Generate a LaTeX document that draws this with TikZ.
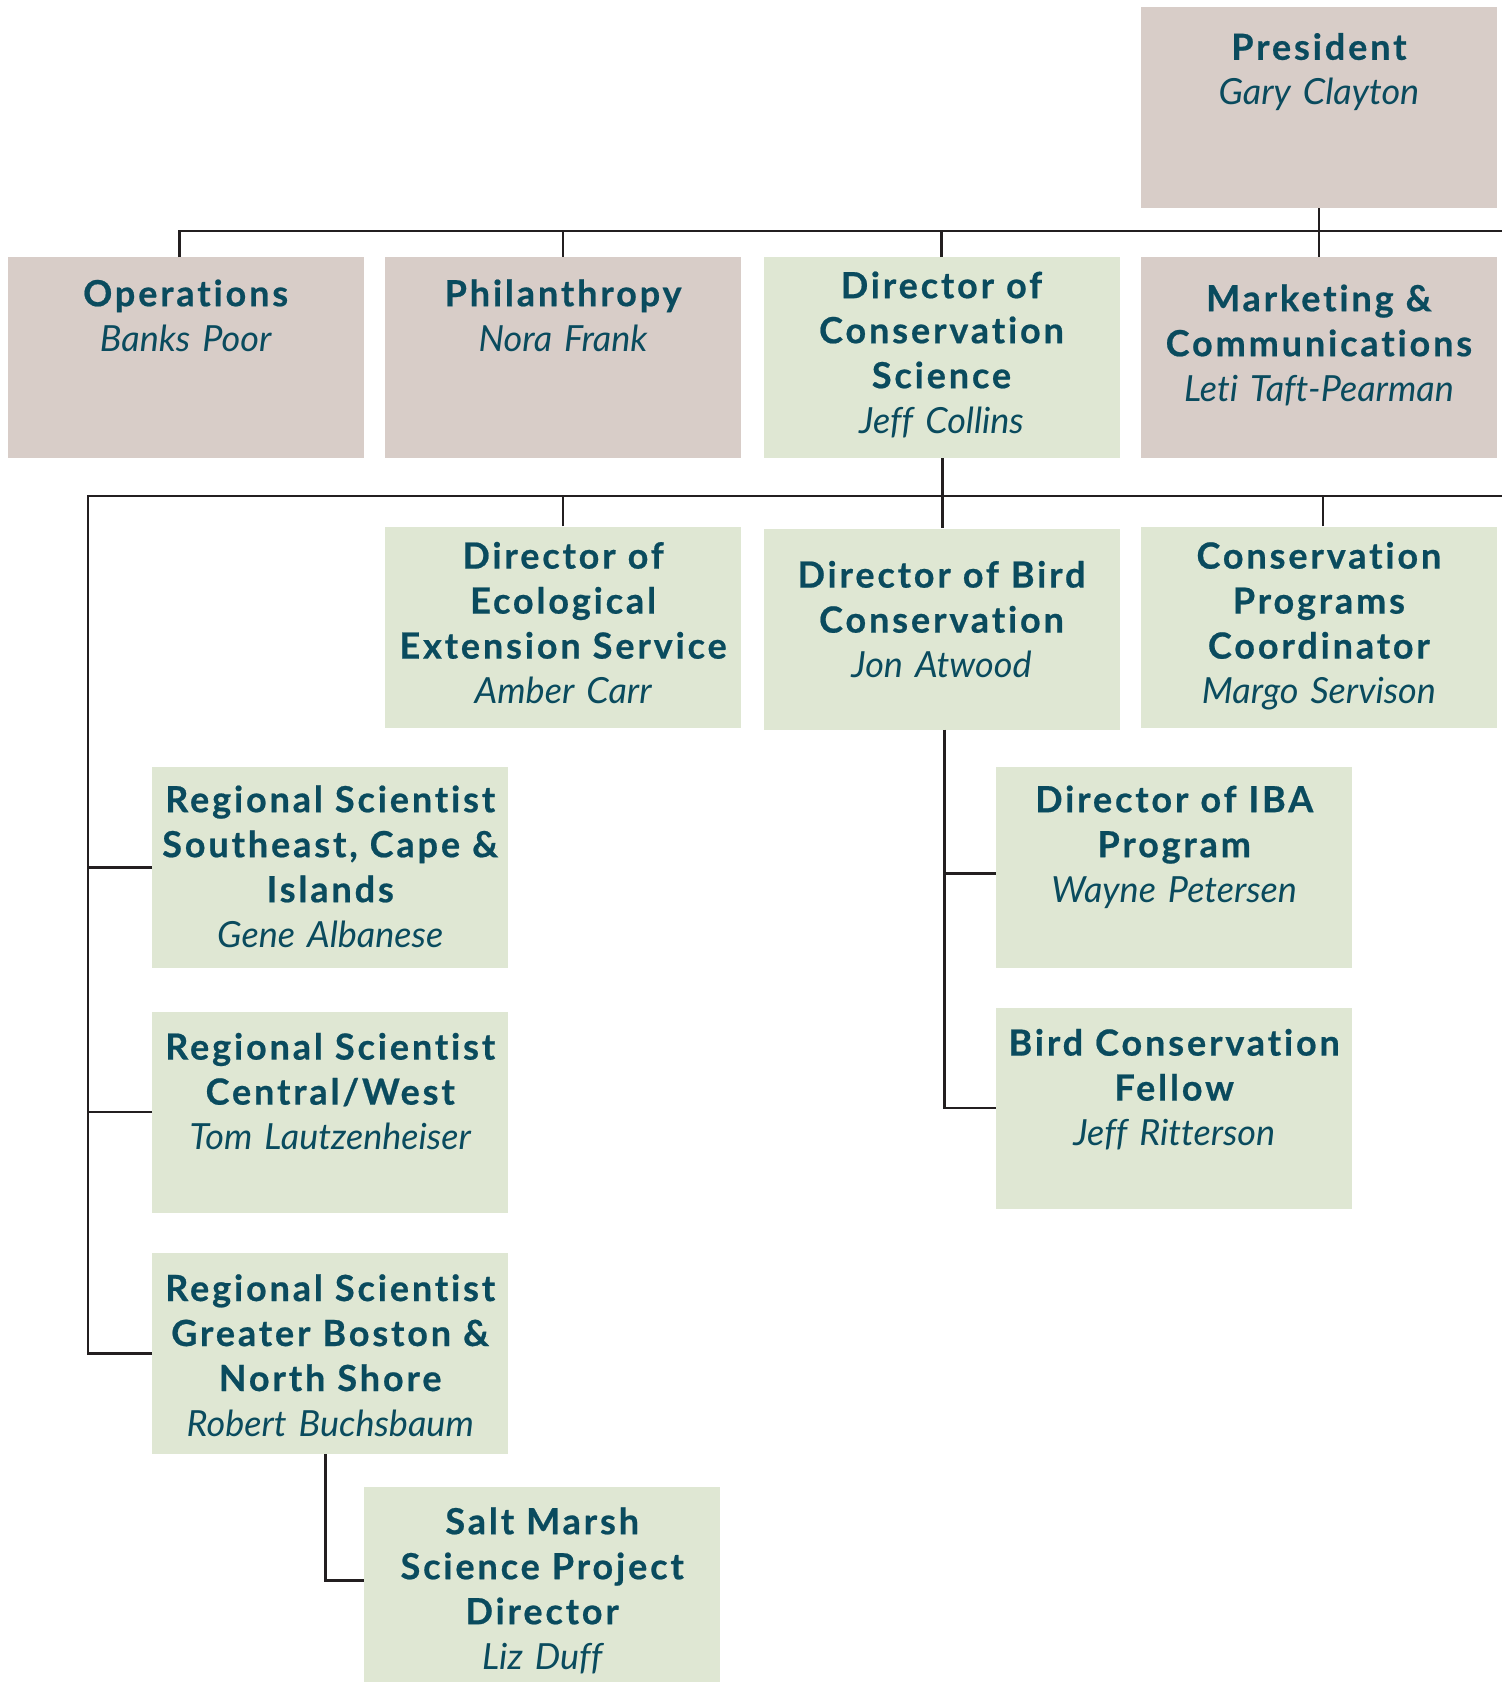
\documentclass[tikz,border=0pt]{standalone}
\usepackage{fontspec}
\setmainfont{Lato}[Ligatures=NoCommon,
  BoldFeatures={LetterSpace=8, FakeBold=0.6}]
\usepackage{tikz}
\usetikzlibrary{positioning}

\definecolor{inkteal}{HTML}{0A4B5E}
\definecolor{taupe}{HTML}{D8CDC8}
\definecolor{sage}{HTML}{DFE7D3}
\definecolor{wire}{HTML}{231F20}

\newcommand{\person}[1]{{\mdseries\itshape #1}}

\begin{document}
\begin{tikzpicture}[
  x=1pt, y=1pt,
  lead/.code={\pgfmathsetmacro\leaddp{201-#1}%
              \tikzset{text height=#1pt, text depth/.expanded={\leaddp pt}}},
  box/.style={rectangle, inner sep=0pt, text width=356pt,
              align=center, text=inkteal, lead=48,
              font=\fontsize{36}{45}\selectfont\bfseries},
  exec/.style={box, fill=taupe},
  sci/.style={box, fill=sage},
  link/.style={draw=wire, line width=2.6pt},
]
  \useasboundingbox (0,0) rectangle (1502,-1682);

  % Senior staff
  \node[exec, lead=49, anchor=north west] (ops) at (7.5,-257) {Operations\\\person{Banks Poor}};
  \node[exec, lead=49, right=21pt of ops]  (phil) {Philanthropy\\\person{Nora Frank}};
  \node[sci,  lead=41, right=22pt of phil] (dcs)  {Director of\\Conservation\\Science\\\person{Jeff Collins}};
  \node[exec, lead=54, right=21pt of dcs]  (mkt)  {Marketing \&\\Communications\\\person{Leti Taft-Pearman}};
  \node[exec, lead=53, above=49pt of mkt]  (pres) {President\\\person{Gary Clayton}};

  % Conservation science directors
  \node[sci, lead=42, below=68pt of phil] (dees) {Director of\\Ecological\\Extension Service\\\person{Amber Carr}};
  \node[sci, lead=59, below=70pt of dcs]  (bird) {Director of Bird\\Conservation\\\person{Jon Atwood}};
  \node[sci, lead=42, below=68pt of mkt]  (cpc)  {Conservation\\Programs\\Coordinator\\\person{Margo Servison}};

  % Regional scientists
  \node[sci, lead=45, anchor=north west] (rs1) at (152,-767) {Regional Scientist\\Southeast, Cape \&\\Islands\\\person{Gene Albanese}};
  \node[sci, lead=48, below=43pt of rs1] (rs2) {Regional Scientist\\Central/West\\\person{Tom Lautzenheiser}};
  \node[sci, lead=48, below=40pt of rs2] (rs3) {Regional Scientist\\Greater Boston \&\\North Shore\\\person{Robert Buchsbaum}};
  \node[sci, lead=47, anchor=north west] (salt) at (364,-1487) {Salt Marsh\\Science Project\\Director\\\person{Liz Duff}};

  % Bird conservation staff
  \node[sci, lead=45, anchor=north west] (iba) at (996,-767) {Director of IBA\\Program\\\person{Wayne Petersen}};
  \node[sci, lead=48, below=39pt of iba] (fellow) {Bird Conservation\\Fellow\\\person{Jeff Ritterson}};

  % Bus lines
  \coordinate (bus1) at (0,-231);
  \coordinate (bus1end) at (1502,-231);
  \coordinate (bus2w) at (88,-496);
  \coordinate (bus2end) at (1502,-496);

  \draw[link] ([xshift=-6pt]ops.north) |- (bus1end);
  \draw[link] (phil.north) -- (phil.north |- bus1);
  \draw[link] (dcs.north) -- (dcs.north |- bus1);
  \draw[link] (pres.south) -- (mkt.north);

  \draw[link] (rs3.west) -| (bus2w) -- (bus2end);
  \draw[link] ([xshift=1pt]dcs.south) -- ([xshift=1pt]bird.north);
  \draw[link] (dees.north) -- (dees.north |- bus2w);
  \draw[link] ([xshift=4pt]cpc.north) -- ([xshift=4pt]cpc.north |- bus2w);
  \draw[link] (rs1.west) -- (rs1.west -| bus2w);
  \draw[link] (rs2.west) -- (rs2.west -| bus2w);

  \draw[link] ([xshift=3pt]bird.south) |- ([yshift=-6pt]iba.west);
  \draw[link] ([xshift=3pt]bird.south) |- (fellow.west);
  \draw[link] ([xshift=-5pt]rs3.south) |- ([yshift=7pt]salt.west);
\end{tikzpicture}
\end{document}
